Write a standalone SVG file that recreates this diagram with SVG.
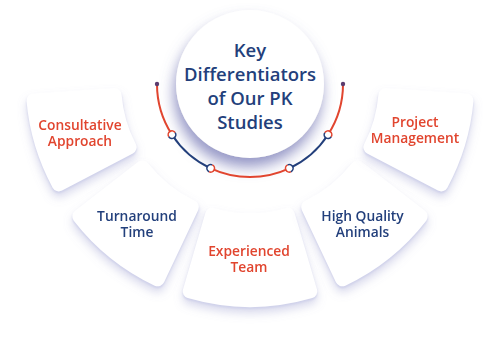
<svg xmlns="http://www.w3.org/2000/svg" width="500" height="342" viewBox="0 0 500 342">
  <defs>
    <filter id="segShadow" x="-20%" y="-20%" width="140%" height="150%">
      <feGaussianBlur in="SourceAlpha" stdDeviation="5" result="b1"/>
      <feOffset in="b1" dy="6" result="o1"/>
      <feFlood flood-color="#8587c4" flood-opacity="0.32"/>
      <feComposite in2="o1" operator="in" result="s1"/>
      <feGaussianBlur in="SourceAlpha" stdDeviation="0.8" result="b2"/>
      <feOffset in="b2" dy="1.6" result="o2"/>
      <feFlood flood-color="#cdcfea" flood-opacity="0.9"/>
      <feComposite in2="o2" operator="in" result="s2"/>
      <feMerge><feMergeNode in="s1"/><feMergeNode in="s2"/><feMergeNode in="SourceGraphic"/></feMerge>
    </filter>
    <filter id="circShadow" x="-30%" y="-30%" width="160%" height="170%">
      <feGaussianBlur in="SourceAlpha" stdDeviation="7" result="b1"/>
      <feOffset in="b1" dx="-2" dy="9" result="o1"/>
      <feFlood flood-color="#686bae" flood-opacity="0.7"/>
      <feComposite in2="o1" operator="in" result="s1"/>
      <feMerge><feMergeNode in="s1"/><feMergeNode in="SourceGraphic"/></feMerge>
    </filter>
    <g id="dotRedPlus">
      <circle r="3.8" fill="#fff"/>
      <path d="M 3.8 0 A 3.8 3.8 0 0 1 -3.8 0" fill="none" stroke="#e1452f" stroke-width="1.6"/>
      <path d="M -3.8 0 A 3.8 3.8 0 0 1 3.8 0" fill="none" stroke="#233f7b" stroke-width="1.6"/>
    </g>
    <g id="dotBluePlus">
      <circle r="3.8" fill="#fff"/>
      <path d="M 3.8 0 A 3.8 3.8 0 0 1 -3.8 0" fill="none" stroke="#233f7b" stroke-width="1.6"/>
      <path d="M -3.8 0 A 3.8 3.8 0 0 1 3.8 0" fill="none" stroke="#e1452f" stroke-width="1.6"/>
    </g>
  </defs>
  <style>
    .seg { fill: #fff; stroke: #fff; stroke-width: 14; stroke-linejoin: round; }
    .lbl { font-family: "Open Sans", "Noto Sans", "Liberation Sans", sans-serif; font-weight: 600; font-size: 13.8px; text-anchor: middle; }
    .red { fill: #e1452f; }
    .navy { fill: #233f7b; }
    .title { font-family: "Open Sans", "Noto Sans", "Liberation Sans", sans-serif; font-weight: 600; font-size: 18.5px; text-anchor: middle; fill: #233f7b; }
    .arc { fill: none; stroke-width: 2; }
  </style>
  <rect width="500" height="342" fill="#fff"/>

  <g id="seg-consultative" filter="url(#segShadow)">
    <path class="seg" d="M 129.6 147.2 L 58.8 184.4 A 216 216 0 0 1 33.5 100.5 L 114.6 95.0 A 136 136 0 0 0 129.6 147.2 Z"/>
    <text class="lbl red" x="80" y="130">Consultative</text>
    <text class="lbl red" x="80" y="146">Approach</text>
  </g>
  <g id="seg-turnaround" filter="url(#segShadow)">
    <path class="seg" d="M 191.9 207.0 L 157.7 279.3 A 216 216 0 0 1 79.3 216.4 L 142.5 167.4 A 136 136 0 0 0 191.9 207.0 Z"/>
    <text class="lbl navy" x="137" y="221">Turnaround</text>
    <text class="lbl navy" x="137" y="237">Time</text>
  </g>
  <g id="seg-experienced" filter="url(#segShadow)">
    <path class="seg" d="M 212.1 214.6 L 189.7 291.4 A 216 216 0 0 0 310.3 291.4 L 287.9 214.6 A 136 136 0 0 1 212.1 214.6 Z"/>
    <text class="lbl red" x="249" y="256">Experienced</text>
    <text class="lbl red" x="249" y="272">Team</text>
  </g>
  <g id="seg-quality" filter="url(#segShadow)">
    <path class="seg" d="M 308.1 207.0 L 342.3 279.3 A 216 216 0 0 0 420.7 216.4 L 357.5 167.4 A 136 136 0 0 1 308.1 207.0 Z"/>
    <text class="lbl navy" x="362.5" y="221">High Quality</text>
    <text class="lbl navy" x="362.5" y="237">Animals</text>
  </g>
  <g id="seg-project" filter="url(#segShadow)">
    <path class="seg" d="M 385.4 95.0 L 466.5 100.5 A 216 216 0 0 1 441.2 184.4 L 370.4 147.2 A 136 136 0 0 0 385.4 95.0 Z"/>
    <text class="lbl red" x="415" y="127">Project</text>
    <text class="lbl red" x="415" y="143">Management</text>
  </g>

  <g id="center" filter="url(#circShadow)">
    <circle cx="250" cy="84" r="74" fill="#fff"/>
  </g>
  <g id="center-text">
    <text class="title" x="250" y="57">Key</text>
    <text class="title" x="250" y="81">Differentiators</text>
    <text class="title" x="250" y="105">of Our PK</text>
    <text class="title" x="250" y="129">Studies</text>
  </g>

  <g id="connectors">
    <path class="arc" stroke="#e1452f" d="M 157 84 A 93 93 0 0 0 172.0 134.7"/>
    <path class="arc" stroke="#233f7b" d="M 172.0 134.7 A 93 93 0 0 0 210.7 168.3"/>
    <path class="arc" stroke="#e1452f" d="M 210.7 168.3 A 93 93 0 0 0 289.3 168.3"/>
    <path class="arc" stroke="#233f7b" d="M 289.3 168.3 A 93 93 0 0 0 328.0 134.7"/>
    <path class="arc" stroke="#e1452f" d="M 328.0 134.7 A 93 93 0 0 0 343 84"/>
    <circle cx="157" cy="84" r="2.2" fill="#5b3c6e"/>
    <circle cx="343" cy="84" r="2.2" fill="#5b3c6e"/>
    <use href="#dotRedPlus" transform="translate(172.0 134.7) rotate(147)"/>
    <use href="#dotBluePlus" transform="translate(210.7 168.3) rotate(115)"/>
    <use href="#dotRedPlus" transform="translate(289.3 168.3) rotate(65)"/>
    <use href="#dotBluePlus" transform="translate(328.0 134.7) rotate(33)"/>
  </g>
</svg>
